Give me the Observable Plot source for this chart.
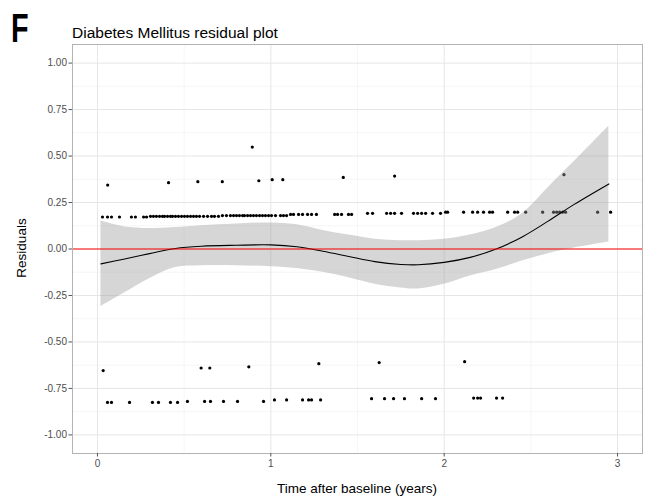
<!DOCTYPE html>
<html>
<head>
<meta charset="utf-8">
<script src="https://cdn.jsdelivr.net/npm/d3@7"></script>
<script src="https://cdn.jsdelivr.net/npm/@observablehq/plot@0.6"></script>
<style>
  html, body { margin: 0; padding: 0; background: #fff; }
  #chart { width: 653px; height: 501px; }
</style>
</head>
<body>
<div id="chart"></div>
<script>
// ---- Data ----
const panelLetter = "F";
const titleText = "Diabetes Mellitus residual plot";
const xTitle = "Time after baseline (years)";
const yTitle = "Residuals";

const xTicks = [0, 1, 2, 3];
const xMinor = [0.5, 1.5, 2.5];
const yTicks = [-1, -0.75, -0.5, -0.25, 0, 0.25, 0.5, 0.75, 1];
const yMinor = [-0.875, -0.625, -0.375, -0.125, 0.125, 0.375, 0.625, 0.875];

// Upper band of residuals (time, residual)
const upperTime = [0.029,0.058,0.081,0.127,0.196,0.219,0.266,0.283,
  0.306,0.323,0.340,0.358,0.375,0.387,0.404,0.421,0.433,0.450,0.467,0.485,0.502,0.519,0.537,0.554,0.571,0.589,0.612,0.635,0.658,0.675,0.698,
  0.721,0.744,0.767,0.785,0.802,0.819,0.837,0.848,0.866,0.883,0.900,0.917,0.935,0.952,0.969,0.987,1.004,1.027,1.056,1.073,1.091,
  1.114,1.131,1.160,1.183,1.212,1.235,1.263,1.368,1.385,1.408,1.448,1.466,
  1.558,1.587,1.668,1.691,1.714,1.754,1.823,1.847,1.870,1.893,1.933,1.979,
  2.008,2.020,2.112,2.164,2.193,2.227,2.262,2.279,2.366,2.406,2.424,2.470,2.568,2.631,2.649,2.666,2.683,2.700,2.885,2.960];
const upperResid = [0.172,0.172,0.172,0.172,0.172,0.172,0.172,0.172,
  0.176,0.176,0.176,0.176,0.176,0.176,0.176,0.176,0.176,0.176,0.176,0.176,0.176,0.176,0.176,0.176,0.176,0.176,0.176,0.176,0.176,0.176,0.176,
  0.180,0.180,0.180,0.180,0.180,0.180,0.180,0.180,0.180,0.180,0.180,0.180,0.180,0.180,0.180,0.180,0.180,0.180,0.180,0.180,0.180,
  0.186,0.186,0.186,0.186,0.186,0.186,0.186,0.186,0.186,0.186,0.186,0.186,
  0.192,0.192,0.192,0.192,0.192,0.192,0.192,0.192,0.192,0.192,0.192,0.192,
  0.198,0.198,0.198,0.198,0.198,0.198,0.198,0.198,0.198,0.198,0.198,0.198,0.198,0.198,0.198,0.198,0.198,0.198,0.198,0.198];

// Lower band of residuals
const lowerTime = [0.058,0.081,0.185,0.317,0.352,0.421,0.462,0.519,0.618,0.652,0.727,0.808,0.958,1.021,1.091,1.183,1.218,1.235,1.287,
  1.581,1.656,1.708,1.771,1.870,1.950,2.170,2.193,2.210,2.302,2.337];
const lowerResid = [-0.825,-0.825,-0.825,-0.825,-0.825,-0.825,-0.825,-0.820,-0.820,-0.820,-0.820,-0.820,-0.820,-0.812,-0.812,-0.812,-0.812,-0.812,-0.812,
  -0.805,-0.805,-0.805,-0.805,-0.805,-0.805,-0.802,-0.802,-0.802,-0.802,-0.802];

// Isolated residuals
const otherTime = [0.059,0.410,0.579,0.720,0.893,0.931,1.008,1.069,1.418,1.714,2.691,
  0.033,0.598,0.648,0.873,1.277,1.625,2.118];
const otherResid = [0.344,0.357,0.362,0.362,0.548,0.367,0.373,0.373,0.385,0.392,0.400,
  -0.654,-0.640,-0.640,-0.634,-0.617,-0.611,-0.606];

// Loess fit with confidence band
const fitTime  = [0.02, 0.15, 0.30, 0.45, 0.60, 0.80, 1.00, 1.15, 1.30, 1.45, 1.60, 1.75, 1.85, 2.00, 2.15, 2.30, 2.45, 2.60, 2.75, 2.95];
const fitValue = [-0.080,-0.055,-0.025,0.003,0.015,0.020,0.022,0.012,-0.012,-0.040,-0.068,-0.083,-0.085,-0.072,-0.045,0.000,0.065,0.150,0.240,0.350];
const fitLower = [-0.310,-0.240,-0.160,-0.100,-0.090,-0.090,-0.095,-0.105,-0.125,-0.155,-0.190,-0.210,-0.215,-0.190,-0.145,-0.110,-0.065,-0.025,0.005,0.037];
const fitUpper = [0.150,0.120,0.110,0.115,0.125,0.135,0.140,0.130,0.100,0.075,0.053,0.045,0.045,0.052,0.075,0.115,0.190,0.330,0.470,0.660];

// ---- Build tables ----
const pts = [
  ...upperTime.map((t, i) => ({t, r: upperResid[i]})),
  ...lowerTime.map((t, i) => ({t, r: lowerResid[i]})),
  ...otherTime.map((t, i) => ({t, r: otherResid[i]}))
];
const fit = fitTime.map((t, i) => ({t, y: fitValue[i], lo: fitLower[i], hi: fitUpper[i]}));

const W = 653, H = 501;
const font = "'Liberation Sans', Arial, sans-serif";

const chart = Plot.plot({
  width: W,
  height: H,
  marginLeft: 72,
  marginRight: 11,
  marginTop: 44,
  marginBottom: 48,
  style: {fontFamily: font, background: "#fff", overflow: "visible"},
  x: {domain: [-0.144, 3.144], label: null},
  y: {domain: [-1.1, 1.1], label: null},
  marks: [
    Plot.ruleX(xMinor, {stroke: "#f0f0f0", strokeWidth: 0.6}),
    Plot.ruleY(yMinor, {stroke: "#f0f0f0", strokeWidth: 0.6}),
    Plot.ruleX(xTicks, {stroke: "#e6e6e6", strokeWidth: 1}),
    Plot.ruleY(yTicks, {stroke: "#e6e6e6", strokeWidth: 1}),
    Plot.dot(pts, {x: "t", y: "r", r: 1.6, fill: "#000", stroke: "none"}),
    Plot.areaY(fit, {x: "t", y1: "lo", y2: "hi", fill: "#999999", fillOpacity: 0.4, curve: "catmull-rom"}),
    Plot.line(fit, {x: "t", y: "y", stroke: "#000", strokeWidth: 1.1, curve: "catmull-rom"}),
    Plot.ruleY([0], {stroke: "#ff0000", strokeWidth: 1}),
    Plot.frame({stroke: "#b3b3b3", strokeWidth: 1}),
    Plot.axisX({ticks: xTicks, tickSize: 3.5, tickFormat: d => String(d), fontSize: 10, fill: "#4d4d4d", stroke: "#555", tickPadding: 3, label: null}),
    Plot.axisY({ticks: yTicks, tickSize: 3.5, tickFormat: d => d.toFixed(2), fontSize: 10, fill: "#4d4d4d", stroke: "#555", tickPadding: 2, label: null})
  ]
});

const svg = d3.select(chart);
svg.append("text")
  .attr("transform", "translate(11,42) scale(0.72,1)")
  .attr("text-anchor", "start")
  .attr("font-family", font)
  .attr("font-size", 40).attr("font-weight", "bold")
  .attr("fill", "#000")
  .text(panelLetter);
svg.append("text")
  .attr("x", 72).attr("y", 38)
  .attr("text-anchor", "start")
  .attr("font-family", font).attr("font-size", 15.5)
  .attr("fill", "#000")
  .text(titleText);
svg.append("text")
  .attr("x", (72 + 642) / 2).attr("y", 493)
  .attr("text-anchor", "middle")
  .attr("font-family", font).attr("font-size", 13.5)
  .attr("fill", "#000")
  .text(xTitle);
svg.append("text")
  .attr("transform", "translate(26,248) rotate(-90)")
  .attr("text-anchor", "middle")
  .attr("font-family", font).attr("font-size", 13.5)
  .attr("fill", "#000")
  .text(yTitle);

document.getElementById("chart").appendChild(chart);
</script>
</body>
</html>
